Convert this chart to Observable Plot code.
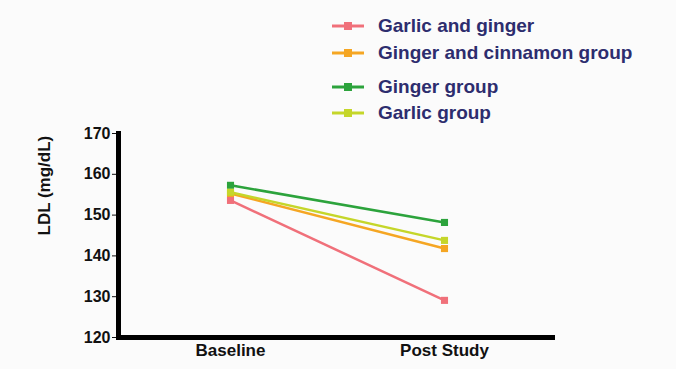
<!DOCTYPE html>
<html>
<head>
<meta charset="utf-8">
<script src="https://cdn.jsdelivr.net/npm/d3@7"></script>
<script src="https://cdn.jsdelivr.net/npm/@observablehq/plot@0.6"></script>
<style>
  html, body { margin: 0; padding: 0; background: #fbfbfb; }
  #wrap { position: relative; width: 676px; height: 369px; font-family: "Liberation Sans", Arial, sans-serif; }
  #legend { position: absolute; left: 330px; top: 0; }
  .item { position: absolute; left: 0; white-space: nowrap; font-size: 19px; font-weight: bold; color: #2d2d6e; }
  .item svg { position: absolute; left: 0; top: 0; }
  .item span { position: absolute; left: 48px; top: -11px; }
</style>
</head>
<body>
<div id="wrap"><div id="legend"></div></div>
<script>
const timepoints = ["Baseline", "Post Study"];
const groups = ["Garlic and ginger", "Ginger and cinnamon group", "Ginger group", "Garlic group"];
const colors = ["#f0707a", "#f5a623", "#2ca33c", "#c5d62a"];
const baselineValues = [153.6, 155.3, 157.3, 155.6];
const postValues = [129.1, 141.8, 148.2, 143.8];
const yTicks = [120, 130, 140, 150, 160, 170];

const rows = [];
groups.forEach((g, i) => {
  rows.push({group: g, time: timepoints[0], value: baselineValues[i]});
  rows.push({group: g, time: timepoints[1], value: postValues[i]});
});

const chart = Plot.plot({
  width: 676,
  height: 369,
  marginLeft: 118,
  marginRight: 121,
  marginTop: 133,
  marginBottom: 32,
  style: {background: "transparent", fontFamily: "Liberation Sans, Arial, sans-serif", fontSize: "16px", fontWeight: "bold", color: "#111"},
  x: {type: "point", domain: timepoints, padding: 0.52, label: null},
  y: {domain: [120, 170], ticks: yTicks, label: null},
  color: {domain: groups, range: colors},
  marks: [
    Plot.axisY({ticks: yTicks, tickSize: 6, tickPadding: 2, fontWeight: "bold", fontSize: 16}),
    Plot.axisX({tickSize: 0, tickPadding: 6, fontWeight: "bold", fontSize: 17}),
    Plot.text(["LDL (mg/dL)"], {frameAnchor: "left", dx: -74, rotate: -90, fontSize: 17, fontWeight: "bold", fill: "#111"}),
    Plot.line(rows, {x: "time", y: "value", z: "group", stroke: "group", strokeWidth: 2.5}),
    Plot.dot(rows, {x: "time", y: "value", fill: "group", r: 4, symbol: "square"}),
    Plot.ruleY([120], {stroke: "#000", strokeWidth: 5}),
    Plot.frame({anchor: "left", stroke: "#000", strokeWidth: 5})
  ]
});
document.getElementById("wrap").appendChild(chart);
chart.style.position = "absolute";
chart.style.left = "0";
chart.style.top = "0";

const legendY = [26, 53, 87, 113];
const legend = document.getElementById("legend");
groups.forEach((g, i) => {
  const d = document.createElement("div");
  d.className = "item";
  d.style.top = legendY[i] + "px";
  d.innerHTML = `<svg width="40" height="10" style="top:-5px"><line x1="2" x2="34" y1="5" y2="5" stroke="${colors[i]}" stroke-width="3"/><rect x="14" y="1" width="8" height="8" fill="${colors[i]}"/></svg><span>${g}</span>`;
  legend.appendChild(d);
});
</script>
</body>
</html>
